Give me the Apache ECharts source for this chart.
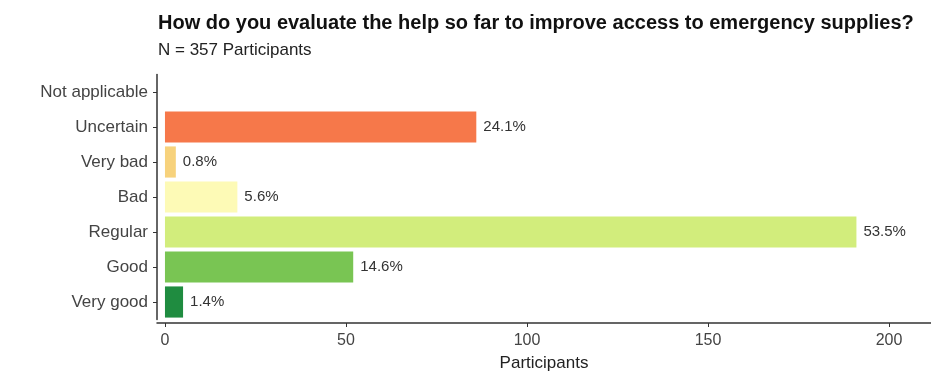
<!DOCTYPE html>
<html>
<head>
<meta charset="utf-8">
<script src="https://cdn.jsdelivr.net/npm/echarts@6/dist/echarts.min.js"></script>
<style>
  html, body { margin: 0; padding: 0; background: #fff; }
  #chart { width: 931px; height: 372px; }
</style>
</head>
<body>
<div id="chart"></div>
<script>
// answer categories, top to bottom
var categories = ['Not applicable', 'Uncertain', 'Very bad', 'Bad', 'Regular', 'Good', 'Very good'];
// participants per answer (N = 357)
var counts = [0, 86, 3, 20, 191, 52, 5];
// percent labels shown next to the bars
var percents = ['', '24.1%', '0.8%', '5.6%', '53.5%', '14.6%', '1.4%'];
var barColors = ['#cccccc', '#F6784A', '#F7D27C', '#FDFAB6', '#D2ED7C', '#79C553', '#1F8C40'];
var xTicks = [0, 50, 100, 150, 200];

var myChart = echarts.init(document.getElementById('chart'));

var option = {
    animation: false,
    textStyle: { fontFamily: 'Liberation Sans' },
    title: {
        text: 'How do you evaluate the help so far to improve access to emergency supplies?',
        subtext: 'N = 357 Participants',
        left: 153,
        top: 8,
        itemGap: 9,
        textStyle: { fontSize: 20, fontWeight: 'bold', color: '#111' },
        subtextStyle: { fontSize: 17, color: '#222' }
    },
    grid: {
        left: 157,
        right: 0,
        top: 74.5,
        bottom: 52.5,
        outerBoundsMode: 'none',
        containLabel: false
    },
    xAxis: {
        type: 'value',
        min: -2.2,
        max: 211.6,
        offset: 3.5,
        name: 'Participants',
        nameLocation: 'middle',
        nameGap: 32,
        nameTextStyle: { fontSize: 17, color: '#222' },
        splitLine: { show: false },
        axisLine: { show: true, lineStyle: { color: '#333', width: 1.5 } },
        axisTick: { show: true, length: 4, customValues: xTicks, lineStyle: { color: '#333' } },
        axisLabel: { customValues: xTicks, fontSize: 16, color: '#444', margin: 10 }
    },
    yAxis: {
        type: 'category',
        inverse: true,
        data: categories,
        axisLine: { show: true, onZero: false, lineStyle: { color: '#333', width: 1.5 } },
        axisTick: { show: true, length: 4, alignWithLabel: true, lineStyle: { color: '#333' } },
        axisLabel: { fontSize: 17, color: '#444', margin: 9 }
    },
    series: [{
        type: 'bar',
        barWidth: '89%',
        data: counts.map(function (v, i) {
            return {
                value: v,
                itemStyle: { color: barColors[i] },
                label: { show: percents[i] !== '' }
            };
        }),
        label: {
            position: 'right',
            distance: 7,
            fontSize: 15,
            color: '#333',
            formatter: function (p) {
                return percents[p.dataIndex];
            }
        }
    }]
};

myChart.setOption(option);
</script>
</body>
</html>
